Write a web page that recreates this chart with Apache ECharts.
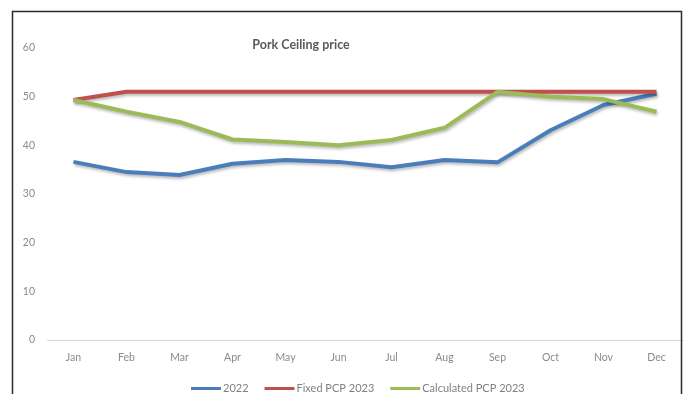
<!DOCTYPE html>
<html>
<head>
<meta charset="utf-8">
<script src="https://cdn.jsdelivr.net/npm/echarts@6/dist/echarts.min.js"></script>
<style>
  html, body { margin: 0; padding: 0; background: #ffffff; }
  #chart { width: 686px; height: 394px; }
</style>
</head>
<body>
<div id="chart"></div>
<script>
// Monthly pork ceiling prices
const months = ['Jan', 'Feb', 'Mar', 'Apr', 'May', 'Jun', 'Jul', 'Aug', 'Sep', 'Oct', 'Nov', 'Dec'];
const price2022 = [36.6, 34.5, 33.9, 36.2, 37.0, 36.6, 35.5, 37.0, 36.5, 43.1, 48.3, 50.6];
const fixedPcp2023 = [49.3, 51, 51, 51, 51, 51, 51, 51, 51, 51, 51, 51];
const calculatedPcp2023 = [49.3, 46.9, 44.8, 41.2, 40.7, 40.0, 41.1, 43.6, 51.0, 50.0, 49.5, 46.9];
const yTicks = { min: 0, max: 60, interval: 10 };

const chart = echarts.init(document.getElementById('chart'));

const lineShadow = {
  shadowColor: 'rgba(0,0,0,0.28)',
  shadowBlur: 3,
  shadowOffsetX: 1,
  shadowOffsetY: 2
};

function lineSeries(name, data, color) {
  return {
    name: name,
    type: 'line',
    data: data,
    symbol: 'none',
    smooth: false,
    lineStyle: Object.assign({ color: color, width: 4 }, lineShadow),
    itemStyle: { color: color }
  };
}

chart.setOption({
  animation: false,
  textStyle: { fontFamily: 'Lato, "Liberation Sans", sans-serif' },
  title: {
    text: 'Pork Ceiling price',
    left: 296,
    top: 33,
    textAlign: 'center',
    textStyle: { fontSize: 12.5, fontWeight: 'bold', color: '#5a5a5a', fontFamily: 'Lato, sans-serif' }
  },
  legend: {
    left: 186,
    top: 378,
    itemWidth: 30,
    itemHeight: 3,
    itemGap: 16,
    icon: 'rect',
    textStyle: { fontSize: 11, color: '#808080', padding: [0, 0, 0, -3] },
    data: ['2022', 'Fixed PCP 2023', 'Calculated PCP 2023']
  },
  grid: { left: 47, right: 3, top: 48, bottom: 54 },
  xAxis: {
    type: 'category',
    data: months,
    boundaryGap: true,
    axisLine: { lineStyle: { color: '#d9d9d9', width: 1 } },
    axisTick: { show: false },
    axisLabel: { fontSize: 10.5, color: '#8a8a8a', margin: 12 }
  },
  yAxis: {
    type: 'value',
    min: yTicks.min,
    max: yTicks.max,
    interval: yTicks.interval,
    axisLine: { show: false },
    axisTick: { show: false },
    splitLine: { show: false },
    axisLabel: { fontSize: 10.5, color: '#8a8a8a', margin: 12 }
  },
  graphic: [{
    type: 'rect',
    shape: { x: 12.5, y: 11.5, width: 669, height: 420 },
    style: { fill: 'none', stroke: '#2a2a2a', lineWidth: 1.5 },
    silent: true,
    z: 100
  }],
  series: [
    lineSeries('2022', price2022, '#4a7ebb'),
    lineSeries('Fixed PCP 2023', fixedPcp2023, '#c0504d'),
    lineSeries('Calculated PCP 2023', calculatedPcp2023, '#9bbb59')
  ]
});
</script>
</body>
</html>
